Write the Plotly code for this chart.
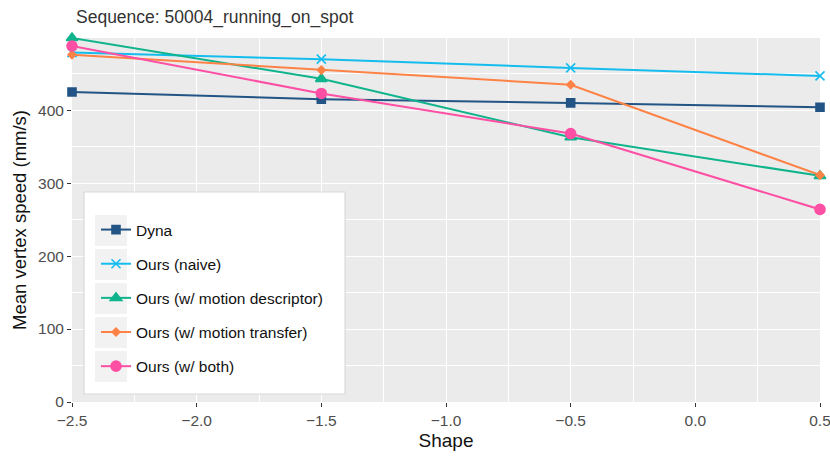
import plotly.graph_objects as go

shape = [-2.5, -1.5, -0.5, 0.5]
dyna = [425, 415, 410, 404]
naive = [479, 470, 458, 447]
motion_desc = [499, 443, 363, 310]
motion_transfer = [476, 455, 435, 311]
both = [488, 423, 368, 264]

names = ["Dyna", "Ours (naive)", "Ours (w/ motion descriptor)",
         "Ours (w/ motion transfer)", "Ours (w/ both)"]
series = [dyna, naive, motion_desc, motion_transfer, both]
colors = ["#225485", "#15bdee", "#10b48c", "#fd8246", "#fd4fa3"]
symbols = ["square", "x-thin-open", "triangle-up", "diamond", "circle"]
sizes = [8, 9, 10, 6, 10]

xticks = [-2.5, -2.0, -1.5, -1.0, -0.5, 0.0, 0.5]
xticktext = ["\u22122.5", "\u22122.0", "\u22121.5", "\u22121.0", "\u22120.5", "0.0", "0.5"]
yticks = [0, 100, 200, 300, 400]

fig = go.Figure()
for i, (n, s) in enumerate(zip(names, series)):
    fig.add_trace(go.Scatter(
        x=shape, y=s, name=n, mode="lines+markers", legendgroup=str(i),
        line=dict(color=colors[i], width=2),
        marker=dict(symbol=symbols[i], size=sizes[i], color=colors[i],
                    line=dict(color=colors[i], width=1.6)),
        cliponaxis=False,
    ))

# legend background box and key backgrounds
fig.add_shape(type="rect", xref="paper", yref="paper",
              x0=(84 - 72) / 748, x1=(345 - 72) / 748,
              y0=(402 - 394) / 364, y1=(402 - 192) / 364,
              fillcolor="white", line=dict(color="#d9d9d9", width=1.2), layer="above")
for k in range(5):
    cy = 230 + k * 34
    fig.add_shape(type="rect", xref="paper", yref="paper",
                  x0=(95 - 72) / 748, x1=(127 - 72) / 748,
                  y0=(402 - (cy + 16)) / 364, y1=(402 - (cy - 15)) / 364,
                  fillcolor="#f2f2f2", line=dict(width=0), layer="above")

fig.update_layout(
    width=830, height=465,
    margin=dict(l=72, r=10, t=38, b=63, autoexpand=False),
    paper_bgcolor="white", plot_bgcolor="#ebebeb",
    font=dict(family="Liberation Sans, Arial, sans-serif", color="#222"),
    title=dict(text="Sequence: 50004_running_on_spot", x=76 / 830, xanchor="left",
               y=1 - 17 / 465, yanchor="middle", font=dict(size=17.5, color="#333"),
               automargin=False),
    showlegend=True,
    legend=dict(x=(96 - 72) / 748, xanchor="left", y=(402 - 213) / 364, yanchor="top",
                bgcolor="rgba(0,0,0,0)", borderwidth=0, font=dict(size=15.5, color="#111"),
                tracegroupgap=11, traceorder="grouped", itemwidth=30),
    xaxis=dict(range=[-2.5, 0.5], tickvals=xticks, ticktext=xticktext, automargin=False,
               ticklabeloverflow="allow",
               showgrid=True, gridcolor="white", gridwidth=1.3, zeroline=False,
               ticks="outside", ticklen=4, tickcolor="#333", tickwidth=1,
               tickfont=dict(size=15.5, color="#4d4d4d"),
               minor=dict(dtick=0.25, showgrid=True, gridcolor="white", gridwidth=0.6),
               title=dict(text="Shape", font=dict(size=19, color="#111"), standoff=6)),
    yaxis=dict(range=[0, 499], tickvals=yticks, automargin=False,
               showgrid=True, gridcolor="white", gridwidth=1.3, zeroline=False,
               ticks="outside", ticklen=4, tickcolor="#333", tickwidth=1,
               tickfont=dict(size=15.5, color="#4d4d4d"),
               minor=dict(dtick=50, showgrid=True, gridcolor="white", gridwidth=0.6),
               title=dict(text="Mean vertex speed (mm/s)", font=dict(size=18.5, color="#111"), standoff=6)),
)

fig.write_html("out.html", config={"displayModeBar": False},
               post_script="document.body.style.margin='0';")
